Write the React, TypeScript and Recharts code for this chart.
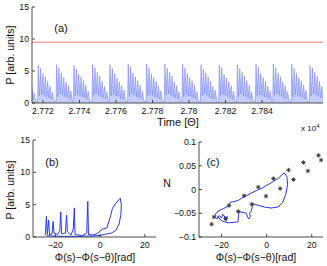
import React from "react";
import {
  AreaChart,
  Area,
  LineChart,
  Line,
  ComposedChart,
  Scatter,
  XAxis,
  YAxis,
  ReferenceLine,
} from "recharts";

// ---- panel (a): intensity time trace ----
const timeTicks = [27720, 27740, 27760, 27780, 27800, 27820, 27840];
const pTicks = [0, 5, 10, 15];
const threshold = 9.5;

const tailTimes = [27714.0, 27714.6, 27715.3, 27716.0, 27716.8];
const tailValues = [2.4, 0.5, 1.6, 0.3, 0.2];

const groupStarts = [
  27717.4, 27727.5, 27737.0, 27747.2, 27756.7, 27766.7, 27776.8, 27786.8,
  27796.5, 27806.6, 27816.6, 27826.5, 27836.7, 27846.2, 27856.3, 27866.3,
];
const spikeOffsets = [
  -0.35, 0, 0.65, 1.3, 1.95, 2.6, 3.25, 3.9, 4.55, 5.2, 5.85, 6.5, 7.15, 7.8, 8.6,
];
const groupValues = [
  [0.2, 5.9, 1.1, 5.4, 1.3, 4.6, 1.2, 4.1, 1.0, 3.4, 0.8, 2.6, 0.6, 1.7, 0.3],
  [0.2, 6.0, 1.0, 5.5, 1.4, 4.7, 1.2, 4.0, 1.0, 3.3, 0.8, 2.7, 0.6, 1.9, 0.3],
  [0.2, 5.9, 1.1, 5.3, 1.3, 4.5, 1.1, 4.1, 0.9, 3.5, 0.8, 2.8, 0.6, 1.8, 0.3],
  [0.2, 6.0, 1.2, 5.5, 1.4, 4.8, 1.2, 4.2, 1.0, 3.4, 0.8, 2.6, 0.6, 1.7, 0.3],
  [0.2, 6.0, 1.1, 5.4, 1.3, 4.6, 1.1, 3.9, 1.0, 3.3, 0.7, 2.7, 0.6, 2.0, 0.3],
  [0.2, 6.1, 1.0, 5.6, 1.4, 4.7, 1.2, 4.1, 1.0, 3.5, 0.8, 2.8, 0.6, 1.8, 0.3],
  [0.2, 6.1, 1.1, 5.5, 1.3, 4.6, 1.2, 4.0, 0.9, 3.4, 0.8, 2.6, 0.6, 1.9, 0.3],
  [0.2, 6.1, 1.2, 5.4, 1.4, 4.8, 1.2, 4.2, 1.0, 3.3, 0.8, 2.7, 0.6, 1.7, 0.3],
  [0.2, 6.1, 1.0, 5.5, 1.3, 4.6, 1.1, 4.0, 1.0, 3.5, 0.8, 2.8, 0.6, 1.8, 0.3],
  [0.2, 6.0, 1.1, 5.3, 1.4, 4.7, 1.2, 4.1, 0.9, 3.4, 0.7, 2.6, 0.6, 2.0, 0.3],
  [0.2, 6.0, 1.2, 5.5, 1.3, 4.5, 1.2, 3.9, 1.0, 3.3, 0.8, 2.7, 0.6, 1.8, 0.3],
  [0.2, 6.0, 1.0, 5.4, 1.4, 4.8, 1.1, 4.2, 1.0, 3.5, 0.8, 2.8, 0.6, 1.7, 0.3],
  [0.2, 6.1, 1.1, 5.6, 1.3, 4.6, 1.2, 4.0, 0.9, 3.4, 0.8, 2.6, 0.6, 1.9, 0.3],
  [0.2, 6.1, 1.2, 5.5, 1.4, 4.7, 1.2, 4.1, 1.0, 3.3, 0.7, 2.7, 0.6, 1.8, 0.3],
  [0.2, 6.1, 1.0, 5.4, 1.3, 4.6, 1.1, 4.0, 1.0, 3.5, 0.8, 2.8, 0.6, 2.0, 0.3],
  [0.2, 5.9, 1.1, 5.5, 1.4, 4.8, 1.2, 4.2, 1.0, 3.4, 0.8, 2.6, 0.6, 1.7, 0.3],
];

// ---- panel (b): P vs phase difference ----
const phaseTicks = [-20, 0, 20];
const trajB = [
  [-24.5, 0.3], [-24, 3.2], [-23.6, 0.4], [-23, 2.6], [-22.6, 0.3],
  [-21.5, 0.5], [-21, 2.4], [-20.6, 0.6], [-19, 0.4], [-18, 1.0],
  [-17.6, 3.9], [-17.2, 0.5], [-15.5, 0.6], [-15, 3.4], [-14.6, 0.8],
  [-13, 0.3], [-12, 1.2], [-11.5, 4.5], [-11.2, 0.4], [-8, 0.2],
  [-6, 0.6], [-5.5, 5.5], [-5.2, 0.4], [-3, 0.3], [-1, 0.6],
  [1, 1.2], [3, 1.4], [4.5, 3.0], [5.5, 4.4], [7, 5.2],
  [8.5, 5.8], [9, 6.0], [9.5, 5.0], [9.3, 3.5], [8.5, 2.0],
  [7, 1.0], [5, 0.6], [2, 0.4], [0, 0.25], [-4, 0.15],
  [-10, 0.1], [-16, 0.1], [-22, 0.15], [-24, 0.2],
];

// ---- panel (c): N vs phase difference ----
const nTicks = [-0.1, -0.05, 0, 0.05, 0.1];
const trajC = [
  [-22, -0.055], [-20, -0.066], [-17, -0.07], [-14, -0.069], [-12.7, -0.068],
  [-12.5, -0.055], [-12.3, -0.047], [-10.5, -0.048], [-9, -0.05], [-8.5, -0.058],
  [-7.8, -0.062], [-7.2, -0.056], [-7.6, -0.05], [-6.8, -0.045], [-6.3, -0.035],
  [-6, -0.03], [-4, -0.033], [-1, -0.037], [2, -0.039], [5, -0.037],
  [7, -0.028], [8.5, -0.01], [9.3, 0.01], [9, 0.027], [7.8, 0.035],
  [5, 0.023], [3.9, 0.02], [2, 0.014], [0.1, 0.009], [-2, 0.003],
  [-4.4, -0.002], [-7, -0.008], [-8.9, -0.013], [-11, -0.018], [-12.6, -0.023],
  [-15, -0.026], [-16.1, -0.027], [-16.9, -0.034], [-19, -0.04], [-20.6, -0.043],
  [-22.5, -0.05], [-23, -0.056], [-22, -0.062], [-21, -0.055], [-20, -0.06],
  [-19.5, -0.052], [-18.5, -0.058], [-18, -0.066], [-17.4, -0.057], [-18.5, -0.062],
];
const markersC = [
  [23, 0.072], [24.2, 0.062], [16.3, 0.057], [18.3, 0.039], [9.7, 0.041],
  [11.9, 0.021], [3, 0.023], [6, 0.002], [-3.7, 0.005], [-0.3, -0.014],
  [-10, -0.013], [-6.6, -0.031], [-16.7, -0.034], [-12.6, -0.046], [-23.4, -0.058],
  [-18.2, -0.061], [-24.4, -0.073],
];

const seriesA = [
  ...tailTimes.map((t, i) => ({ t, p: tailValues[i] })),
  ...groupStarts.flatMap((start, g) =>
    spikeOffsets.map((o, k) => ({ t: start + o, p: groupValues[g][k] }))
  ),
];
const dataB = trajB.map(([x, y]) => ({ x, y }));
const dataCLine = trajC.map(([x, y]) => ({ x, y }));
const dataCMarks = markersC.map(([x, y]) => ({ x, y }));

const font = "'Liberation Sans', Arial, sans-serif";
const tickStyle = { fontSize: 8.7, fill: "#111", fontFamily: font };
const axisLineStyle = { stroke: "#222", strokeWidth: 0.8 };
const blue = "#2438f2";

const fmtTime = (v: number) => String(+(v / 1e4).toFixed(3));
const fmtN = (v: number) => (v < 0 ? "\u2212" + String(-v) : String(v));
const fmtPhase = (v: number) => (v < 0 ? "\u2212" + String(-v) : String(v));

const Asterisk = (props: any) => {
  const { cx, cy } = props;
  const r = 2.2;
  return (
    <g stroke="#333" strokeWidth={0.9}>
      <line x1={cx - r} y1={cy} x2={cx + r} y2={cy} />
      <line x1={cx} y1={cy - r} x2={cx} y2={cy + r} />
      <line x1={cx - r * 0.7} y1={cy - r * 0.7} x2={cx + r * 0.7} y2={cy + r * 0.7} />
      <line x1={cx - r * 0.7} y1={cy + r * 0.7} x2={cx + r * 0.7} y2={cy - r * 0.7} />
    </g>
  );
};

const Txt = ({ x, y, size = 10.5, children, rotate = 0, anchor = "center" }: any) => (
  <div
    style={{
      position: "absolute",
      left: x,
      top: y,
      fontSize: size,
      fontFamily: font,
      color: "#111",
      whiteSpace: "nowrap",
      transform: `translate(${anchor === "center" ? "-50%" : "0"}, -50%) rotate(${rotate}deg)`,
      lineHeight: 1,
    }}
  >
    {children}
  </div>
);

// mirrored box axes (top / right) with inward ticks, no labels
const boxAxes = (xDomain: number[], xTicks: number[], yDomain: number[], yTicks: number[]) => [
  <XAxis
    key="xt"
    xAxisId="top"
    orientation="top"
    type="number"
    dataKey="x"
    domain={xDomain}
    ticks={xTicks}
    allowDataOverflow
    height={0}
    tick={false}
    tickSize={-3}
    axisLine={axisLineStyle}
    tickLine={axisLineStyle}
  />,
  <YAxis
    key="yr"
    yAxisId="right"
    orientation="right"
    type="number"
    domain={yDomain}
    ticks={yTicks}
    allowDataOverflow
    width={0}
    tick={false}
    tickSize={-3}
    axisLine={axisLineStyle}
    tickLine={axisLineStyle}
  />,
];

export default function App() {
  return (
    <div
      style={{
        position: "fixed",
        left: 0,
        top: 0,
        width: 327,
        height: 266,
        background: "#fff",
        overflow: "hidden",
      }}
    >
      {/* (a) */}
      <div style={{ position: "absolute", left: 0, top: 0 }}>
        <AreaChart width={327} height={140} data={seriesA} margin={{ top: 7, right: 4, left: 0, bottom: 23 }}>
          <XAxis
            type="number"
            dataKey="t"
            domain={[27714, 27873.4]}
            ticks={timeTicks}
            tickFormatter={fmtTime}
            allowDataOverflow
            height={14}
            tickSize={-3}
            tickMargin={8}
            tick={tickStyle}
            axisLine={axisLineStyle}
            tickLine={axisLineStyle}
          />
          <YAxis
            type="number"
            domain={[0, 15]}
            ticks={pTicks}
            allowDataOverflow
            width={32}
            tickSize={-3}
            tickMargin={6}
            tick={tickStyle}
            axisLine={axisLineStyle}
            tickLine={axisLineStyle}
          />
          {boxAxes([27714, 27873.4], timeTicks, [0, 15], pTicks)}
          <Area
            type="linear"
            dataKey="p"
            stroke="#6576f3"
            strokeWidth={0.5}
            fill="#c6cdfd"
            fillOpacity={1}
            isAnimationActive={false}
            dot={false}
            activeDot={false}
          />
          <ReferenceLine y={threshold} stroke="#f27a7a" strokeWidth={1} />
        </AreaChart>
      </div>
      <Txt x={61} y={28} size={11}>(a)</Txt>
      <Txt x={10} y={55} size={10.5} rotate={-90}>P [arb. units]</Txt>
      <Txt x={178} y={122} size={11}>Time [&Theta;]</Txt>
      <Txt x={301} y={128} size={8} anchor="start">
        x 10<sup style={{ fontSize: 6 }}>4</sup>
      </Txt>

      {/* (b) */}
      <div style={{ position: "absolute", left: 0, top: 130 }}>
        <LineChart width={160} height={136} data={dataB} margin={{ top: 10, right: 4, left: 0, bottom: 15 }}>
          <XAxis
            type="number"
            dataKey="x"
            domain={[-30, 25]}
            ticks={phaseTicks}
            tickFormatter={fmtPhase}
            allowDataOverflow
            height={14}
            tickSize={-3}
            tickMargin={8}
            tick={tickStyle}
            axisLine={axisLineStyle}
            tickLine={axisLineStyle}
          />
          <YAxis
            type="number"
            domain={[0, 15]}
            ticks={pTicks}
            allowDataOverflow
            width={33}
            tickSize={-3}
            tickMargin={6}
            tick={tickStyle}
            axisLine={axisLineStyle}
            tickLine={axisLineStyle}
          />
          {boxAxes([-30, 25], phaseTicks, [0, 15], pTicks)}
          <Line
            type="linear"
            dataKey="y"
            stroke={blue}
            strokeWidth={1}
            dot={false}
            activeDot={false}
            isAnimationActive={false}
          />
        </LineChart>
      </div>
      <Txt x={52} y={162} size={11}>(b)</Txt>
      <Txt x={10} y={190} size={10.5} rotate={-90}>P [arb. units]</Txt>
      <Txt x={95} y={257} size={10.5}>&Phi;(s)&minus;&Phi;(s&minus;&theta;)[rad]</Txt>

      {/* (c) */}
      <div style={{ position: "absolute", left: 165, top: 130 }}>
        <ComposedChart width={162} height={136} margin={{ top: 12, right: 4, left: 0, bottom: 15 }}>
          <XAxis
            type="number"
            dataKey="x"
            domain={[-30, 25]}
            ticks={phaseTicks}
            tickFormatter={fmtPhase}
            allowDataOverflow
            height={14}
            tickSize={-3}
            tickMargin={8}
            tick={tickStyle}
            axisLine={axisLineStyle}
            tickLine={axisLineStyle}
          />
          <YAxis
            type="number"
            dataKey="y"
            domain={[-0.1, 0.1]}
            ticks={nTicks}
            tickFormatter={fmtN}
            allowDataOverflow
            width={34}
            tickSize={-3}
            tickMargin={6}
            tick={tickStyle}
            axisLine={axisLineStyle}
            tickLine={axisLineStyle}
          />
          {boxAxes([-30, 25], phaseTicks, [-0.1, 0.1], nTicks)}
          <Line
            data={dataCLine}
            type="linear"
            dataKey="y"
            stroke={blue}
            strokeWidth={1}
            dot={false}
            activeDot={false}
            isAnimationActive={false}
          />
          <Scatter data={dataCMarks} dataKey="y" shape={Asterisk} isAnimationActive={false} />
        </ComposedChart>
      </div>
      <Txt x={213} y={162} size={11}>(c)</Txt>
      <Txt x={167} y={183} size={10.5}>N</Txt>
      <Txt x={256} y={257} size={10.5}>&Phi;(s)&minus;&Phi;(s&minus;&theta;)[rad]</Txt>
    </div>
  );
}
